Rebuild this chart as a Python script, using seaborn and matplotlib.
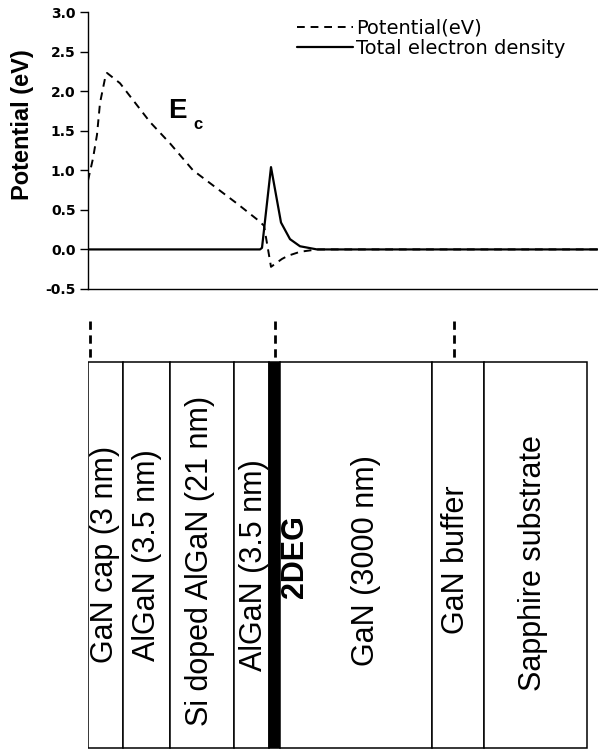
import numpy as np
import pandas as pd
import matplotlib
matplotlib.use("Agg")
import matplotlib.pyplot as plt
import seaborn as sns
from matplotlib.patches import Rectangle

# ==========================================================
# 1. DATA (position in arbitrary units along the heterostructure)
# ==========================================================
potential_x = [0, 5, 9, 12, 17, 19, 32, 62, 82, 105, 149, 170, 176, 183, 194, 200, 212, 229, 510]
potential_y = [0.87, 1.15, 1.45, 1.85, 2.16, 2.23, 2.10, 1.61, 1.34, 1.00, 0.58, 0.37, 0.30,
               -0.22, -0.12, -0.08, -0.03, 0.0, 0.0]

density_x = [0, 172, 174, 183, 193, 202, 212, 229, 510]
density_y = [0.0, 0.0, 0.02, 1.04, 0.34, 0.13, 0.04, 0.0, 0.0]

y_ticks = [-0.5, 0.0, 0.5, 1.0, 1.5, 2.0, 2.5, 3.0]

# layer stack (schematic), edges in the same position units
layer_names = ["GaN cap (3 nm)", "AlGaN (3.5 nm)", "Si doped AlGaN (21 nm)", "AlGaN (3.5 nm)",
               "2DEG", "GaN (3000 nm)", "GaN buffer", "Sapphire substrate"]
layer_edges = [0, 35, 82, 146, 181, 192, 344, 396, 499]
connector_x = [2, 187, 366]

# label placement (x centre, bottom in pixels) - layout only
label_x = [17, 59, 112, 166, 207, 278, 368, 445]
label_bottom = [663, 661, 726, 671, 598, 666, 634, 691]

df_pot = pd.DataFrame({"x": potential_x, "y": potential_y})
df_den = pd.DataFrame({"x": density_x, "y": density_y})

# ==========================================================
# 2. STYLE
# ==========================================================
sns.set_theme(style="white")
plt.rcParams["font.family"] = ["Liberation Sans", "DejaVu Sans"]
plt.rcParams["axes.unicode_minus"] = False
plt.rcParams["text.color"] = "black"
plt.rcParams["axes.labelcolor"] = "black"
plt.rcParams["ytick.color"] = "black"
plt.rcParams["xtick.color"] = "black"

fig = plt.figure(figsize=(5.98, 7.51), dpi=100)
W, H = 598, 751
ax = fig.add_axes([88 / W, 1 - 289 / H, 510 / W, 277 / H])
ax2 = fig.add_axes([88 / W, 0, 510 / W, 1 - 300 / H])

# ==========================================================
# 3. TOP PANEL - POTENTIAL AND ELECTRON DENSITY
# ==========================================================
sns.lineplot(data=df_pot, x="x", y="y", ax=ax, color="black", lw=1.4,
             linestyle=(0, (4, 3)), label="Potential(eV)")
sns.lineplot(data=df_den, x="x", y="y", ax=ax, color="black", lw=1.6,
             label="Total electron density")

ax.set_xlim(0, 510)
ax.set_ylim(-0.5, 3.0)
ax.set_xticks([])
ax.set_yticks(y_ticks)
ax.set_yticklabels([f"{v:.1f}" for v in y_ticks])
for lbl in ax.get_yticklabels():
    lbl.set_fontweight("bold")
    lbl.set_family("DejaVu Sans")
    lbl.set_fontsize(10)
ax.tick_params(axis="y", direction="out", length=6, width=1, pad=3, left=True,
               color="black", labelcolor="black")
ax.set_xlabel("")
ax.set_ylabel("Potential (eV)", fontsize=17, fontweight="bold", color="black")
ax.yaxis.set_label_coords(-0.106, 0.594)
sns.despine(ax=ax)
for s in ["left", "bottom"]:
    ax.spines[s].set_color("black")
    ax.spines[s].set_linewidth(1.0)

ax.text(80, 1.66, "E", fontsize=20, fontweight="bold", ha="left", va="baseline", color="black")
ax.text(105, 1.52, "c", fontsize=12, fontweight="bold", ha="left", va="baseline", color="black")

leg = ax.legend(loc="upper left", bbox_to_anchor=(297 / W, 1 - 19 / H),
                bbox_transform=fig.transFigure, frameon=False, borderpad=0,
                borderaxespad=0, handlelength=2.9, handletextpad=0.15,
                labelspacing=0.05, prop={"family": "DejaVu Sans", "size": 14})
for t in leg.get_texts():
    t.set_color("black")

# ==========================================================
# 4. BOTTOM PANEL - LAYER STACK
# ==========================================================
ax2.set_xlim(0, 510)
ax2.set_ylim(751, 300)
ax2.axis("off")

box_top, box_bot = 362, 748
for i, name in enumerate(layer_names):
    x0, x1 = layer_edges[i], layer_edges[i + 1]
    fc = "black" if name == "2DEG" else "white"
    ax2.add_patch(Rectangle((x0, box_top), x1 - x0, box_bot - box_top,
                            facecolor=fc, edgecolor="black", lw=1.1))

for xc in connector_x:
    ax2.plot([xc, xc], [321, box_top], color="black", lw=2.0, linestyle=(0, (3, 2)))

for name, lx, lb in zip(layer_names, label_x, label_bottom):
    ax2.text(lx, lb, name, rotation=90, ha="center", va="bottom", fontsize=22, color="black",
             fontweight="bold" if name == "2DEG" else "normal")

fig.savefig("out.png", dpi=100)
plt.close(fig)
